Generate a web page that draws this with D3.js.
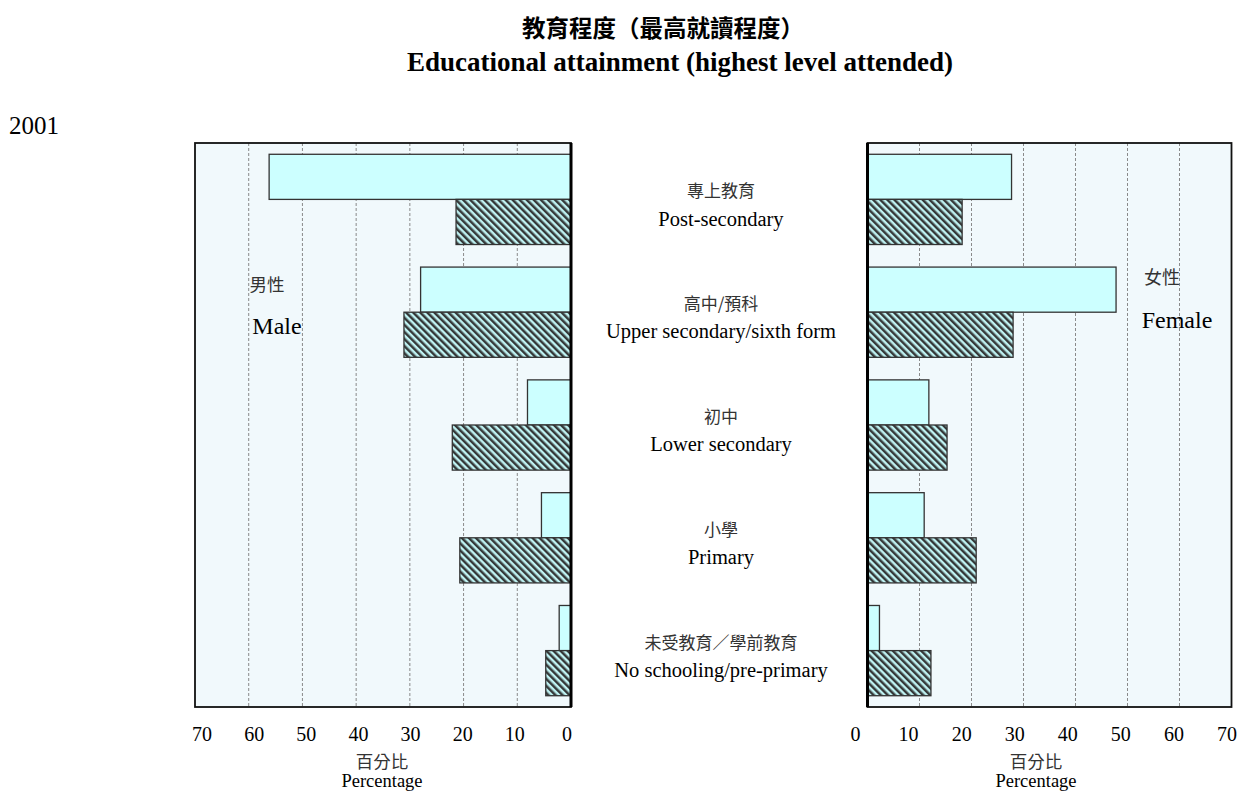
<!DOCTYPE html>
<html>
<head>
<meta charset="utf-8">
<script src="https://cdn.jsdelivr.net/npm/d3@7"></script>
<style>
  html, body { margin: 0; padding: 0; background: #ffffff; }
  svg { display: block; }
</style>
</head>
<body>
<svg id="chart" width="1241" height="794"></svg>
<script>
// ---------- DATA ----------
const categoriesZh = ["專上教育", "高中/預科", "初中", "小學", "未受教育／學前教育"];
const categoriesEn = ["Post-secondary", "Upper secondary/sixth form", "Lower secondary", "Primary", "No schooling/pre-primary"];
const maleLight     = [56.2, 28.0, 8.1, 5.5, 2.2];
const maleHatched   = [21.4, 31.1, 22.1, 20.7, 4.7];
const femaleLight   = [27.7, 47.8, 11.8, 10.9, 2.3];
const femaleHatched = [18.2, 28.0, 15.3, 20.9, 12.2];
const tickValues = [0, 10, 20, 30, 40, 50, 60, 70];
const titleZh = "教育程度（最高就讀程度）";
const titleEn = "Educational attainment (highest level attended)";
const yearLabel = "2001";

// ---------- LAYOUT ----------
const svg = d3.select("#chart");
const plotTop = 143, plotBottom = 707;
const L = { x0: 571, x1: 195 };     // left panel: 0 at right, 70 at left
const R = { x0: 867.5, x1: 1231.5 }; // right panel: 0 at left
const serif = "'Liberation Serif', 'Times New Roman', serif";
const cjk = "'Noto Sans CJK TC', 'Noto Sans CJK SC', sans-serif";
const lightFill = "#ccffff";
const bgFill = "#f1f9fc";

const xL = d3.scaleLinear().domain([0, 70]).range([L.x0, L.x1]);
const xR = d3.scaleLinear().domain([0, 70]).range([R.x0, R.x1]);
const xLlab = d3.scaleLinear().domain([0, 70]).range([566.5, 201.5]);
const xRlab = d3.scaleLinear().domain([0, 70]).range([855, 1226.5]);
const y = d3.scaleBand().domain(d3.range(categoriesEn.length)).range([plotTop, plotBottom]).paddingInner(0.2).paddingOuter(0.1);
const bw = y.bandwidth() / 2;

// hatch pattern
const defs = svg.append("defs");
const pat = defs.append("pattern").attr("id", "hatch")
  .attr("patternUnits", "userSpaceOnUse").attr("width", 5).attr("height", 5)
  .attr("patternTransform", "rotate(-45)");
pat.append("rect").attr("width", 5).attr("height", 5).attr("fill", "#bff2f2");
pat.append("rect").attr("x", 0).attr("width", 2.5).attr("height", 5).attr("fill", "#353838");

// ---------- TITLES ----------
svg.append("text").attr("x", 663).attr("y", 37).attr("text-anchor", "middle")
  .attr("font-family", cjk).attr("font-weight", "bold").attr("font-size", 23.5).text(titleZh);
svg.append("text").attr("x", 680).attr("y", 71).attr("text-anchor", "middle")
  .attr("font-family", serif).attr("font-weight", "bold").attr("font-size", 27).text(titleEn);
svg.append("text").attr("x", 9).attr("y", 134)
  .attr("font-family", serif).attr("font-size", 25).text(yearLabel);

// ---------- PANELS ----------
function panel(x, xlab, lightVals, hatchVals, zeroX, otherX) {
  const g = svg.append("g");
  const xa = Math.min(zeroX, otherX), xb = Math.max(zeroX, otherX);
  g.append("rect").attr("x", xa).attr("y", plotTop).attr("width", xb - xa).attr("height", plotBottom - plotTop)
    .attr("fill", bgFill);
  // grid
  g.selectAll("line.grid").data(tickValues.filter(v => v > 0 && v < 70)).enter().append("line")
    .attr("x1", d => x(d)).attr("x2", d => x(d)).attr("y1", plotTop).attr("y2", plotBottom)
    .attr("stroke", "#8a8a8a").attr("stroke-width", 1).attr("stroke-dasharray", "3,2");
  // bars
  const barX = v => Math.min(x(0), x(v));
  const barW = v => Math.abs(x(v) - x(0));
  g.selectAll("rect.light").data(lightVals).enter().append("rect")
    .attr("x", d => barX(d)).attr("y", (d, i) => y(i)).attr("width", d => barW(d)).attr("height", bw)
    .attr("fill", lightFill).attr("stroke", "#333").attr("stroke-width", 1.3);
  g.selectAll("rect.hatch").data(hatchVals).enter().append("rect")
    .attr("x", d => barX(d)).attr("y", (d, i) => y(i) + bw).attr("width", d => barW(d)).attr("height", bw)
    .attr("fill", "url(#hatch)").attr("stroke", "#333").attr("stroke-width", 1.3);
  // frame
  g.append("rect").attr("x", xa).attr("y", plotTop).attr("width", xb - xa).attr("height", plotBottom - plotTop)
    .attr("fill", "none").attr("stroke", "#111").attr("stroke-width", 1.8);
  g.append("line").attr("x1", zeroX).attr("x2", zeroX).attr("y1", plotTop).attr("y2", plotBottom)
    .attr("stroke", "#000").attr("stroke-width", 3);
  // tick labels
  const ax = g.append("g").attr("transform", `translate(0,${727})`)
    .call(d3.axisBottom(xlab).tickValues(tickValues).tickSize(0).tickPadding(0).tickFormat(d3.format("d")));
  ax.select(".domain").remove();
  ax.selectAll("text").attr("font-family", serif).attr("font-size", 20).attr("fill", "#000");
  return g;
}

panel(xL, xLlab, maleLight, maleHatched, L.x0, L.x1);
panel(xR, xRlab, femaleLight, femaleHatched, R.x0, R.x1);

[382, 1036].forEach(cx => {
  svg.append("text").attr("x", cx).attr("y", 768).attr("text-anchor", "middle")
    .attr("font-family", cjk).attr("font-size", 17.5).attr("fill", "#333").text("百分比");
  svg.append("text").attr("x", cx).attr("y", 787).attr("text-anchor", "middle")
    .attr("font-family", serif).attr("font-size", 18.5).text("Percentage");
});

// sex labels
svg.append("text").attr("x", 267).attr("y", 291).attr("text-anchor", "middle")
  .attr("font-family", cjk).attr("font-size", 17.5).attr("fill", "#333").text("男性");
svg.append("text").attr("x", 277).attr("y", 334).attr("text-anchor", "middle")
  .attr("font-family", serif).attr("font-size", 24).text("Male");
svg.append("text").attr("x", 1162).attr("y", 284).attr("text-anchor", "middle")
  .attr("font-family", cjk).attr("font-size", 18).attr("fill", "#333").text("女性");
svg.append("text").attr("x", 1177).attr("y", 328).attr("text-anchor", "middle")
  .attr("font-family", serif).attr("font-size", 24).text("Female");

// category labels
const catX = 721;
svg.selectAll("text.zh").data(categoriesZh).enter().append("text")
  .attr("x", catX).attr("y", (d, i) => y(i) + bw - 8).attr("dy", "0.35em").attr("text-anchor", "middle")
  .attr("font-family", cjk).attr("font-size", 17).attr("fill", "#333").text(d => d);
svg.selectAll("text.en").data(categoriesEn).enter().append("text")
  .attr("x", catX).attr("y", (d, i) => y(i) + bw + 19).attr("dy", "0.35em").attr("text-anchor", "middle")
  .attr("font-family", serif).attr("font-size", 20.5).text(d => d);
</script>
</body>
</html>
